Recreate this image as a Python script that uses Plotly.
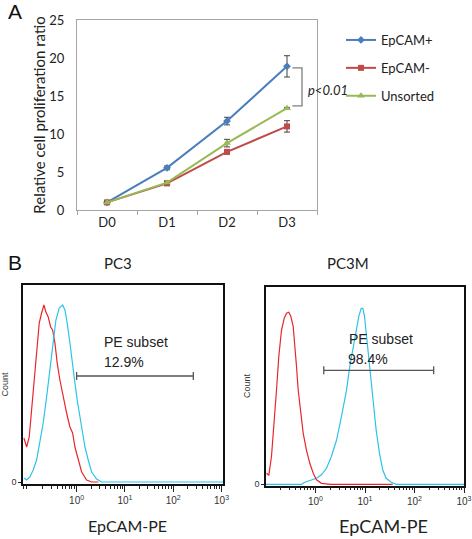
import numpy as np
import plotly.graph_objects as go

W, H = 472, 539

# ---------------- Panel A data ----------------
days = ["D0", "D1", "D2", "D3"]
epcam_pos = [1.0, 5.55, 11.7, 18.9]
epcam_pos_err = [0.1, 0.25, 0.5, 1.4]
epcam_neg = [1.0, 3.5, 7.65, 11.0]
epcam_neg_err = [0.1, 0.2, 0.3, 0.75]
unsorted = [1.0, 3.6, 8.8, 13.4]
unsorted_err = [0.1, 0.2, 0.5, 0.1]
p_text = "p&lt;0.01"

# ---------------- Panel B data (log10 of EpCAM-PE intensity, count) ----------------
pc3_red_log = [-1.091, -1.035, -0.981, -0.932, -0.884, -0.828, -0.774, -0.725, -0.677, -0.636,
               -0.588, -0.538, -0.497, -0.449, -0.402, -0.346, -0.277, -0.207, -0.139, -0.083,
               -0.035, 0.033, 0.104, 0.207, 0.311, 0.45]
pc3_red_cnt = [44, 35, 45, 72, 102, 135, 159, 169, 177, 170,
               165, 155, 152, 139, 119, 102, 85, 69, 55, 49,
               35, 22, 10, 2, 0, 0]
pc3_cyan_log = [-1.091, -1.035, -0.967, -0.899, -0.828, -0.760, -0.692, -0.621, -0.553, -0.484,
                -0.429, -0.360, -0.290, -0.242, -0.195, -0.139, -0.083, -0.035, 0.012, 0.068,
                0.124, 0.172, 0.240, 0.311, 0.414, 0.518, 3.03]
pc3_cyan_cnt = [4, 2, 5, 12, 22, 39, 59, 85, 112, 142,
                162, 174, 177, 172, 159, 139, 115, 99, 82, 65,
                49, 35, 22, 10, 3, 0, 0]
pc3m_red_log = [-0.990, -0.943, -0.889, -0.834, -0.788, -0.741, -0.687, -0.632, -0.586, -0.539,
                -0.499, -0.451, -0.418, -0.384, -0.349, -0.297, -0.248, -0.182, -0.115, -0.046,
                0.020, 0.121, 0.3, 1.56]
pc3m_red_cnt = [11, 9, 28, 61, 94, 128, 154, 166, 171, 172,
                168, 158, 141, 118, 94, 68, 51, 34, 21, 11,
                4.5, 1, 0, 0]
pc3m_cyan_log = [-1.0, -0.283, -0.216, -0.081, 0.020, 0.121, 0.222, 0.323, 0.424, 0.525,
                 0.626, 0.693, 0.754, 0.822, 0.875, 0.923, 0.956, 0.990, 1.024, 1.077,
                 1.125, 1.172, 1.226, 1.293, 1.360, 1.428, 1.529, 1.630, 3.0]
pc3m_cyan_cnt = [0, 0, 2, 4.5, 6, 9.5, 16, 28, 44, 68,
                 94, 118, 134, 154, 168, 176, 176, 168, 151, 128,
                 104, 78, 54, 31, 14, 6, 2, 0, 0]
pc3_gate = [1.0, 260.0]
pc3_gate_cnt = 106
pc3_subset = "12.9%"
pc3m_gate = [1.47, 244.0]
pc3m_gate_cnt = 114
pc3m_subset = "98.4%"
subset_label = "PE subset"
decade_ticks = [1, 10, 100, 1000]
decade_labels = ["10<sup>0</sup>", "10<sup>1</sup>", "10<sup>2</sup>", "10<sup>3</sup>"]


def px_x(p):
    return p / W


def px_y(p):
    return 1 - p / H


fig = go.Figure()

CAL = "Lato, 'Open Sans', sans-serif"
ARI = "'Liberation Sans', Arial, sans-serif"

blue = "#4a7ebb"
red = "#be4b48"
green = "#98b954"

err_style = dict(type="data", visible=True, color="#404040", thickness=1, width=3)

fig.add_trace(go.Scatter(x=days, y=epcam_pos, name="EpCAM+", mode="lines+markers",
                         line=dict(color=blue, width=2),
                         marker=dict(symbol="diamond", size=6, color=blue),
                         error_y=dict(array=epcam_pos_err, **err_style),
                         xaxis="x", yaxis="y", legendgroup="a"))
fig.add_trace(go.Scatter(x=days, y=epcam_neg, name="EpCAM-", mode="lines+markers",
                         line=dict(color=red, width=2),
                         marker=dict(symbol="square", size=6, color=red),
                         error_y=dict(array=epcam_neg_err, **err_style),
                         xaxis="x", yaxis="y", legendgroup="b"))
fig.add_trace(go.Scatter(x=days, y=unsorted, name="Unsorted", mode="lines+markers",
                         line=dict(color=green, width=2),
                         marker=dict(symbol="triangle-up", size=7, color=green),
                         error_y=dict(array=unsorted_err, **err_style),
                         xaxis="x", yaxis="y", legendgroup="c"))

hred = "#e8262b"
hcyan = "#2cc3e8"
fig.add_trace(go.Scatter(x=[10 ** v for v in pc3_red_log], y=pc3_red_cnt, mode="lines",
                         line=dict(color=hred, width=1.2), showlegend=False, xaxis="x2", yaxis="y2"))
fig.add_trace(go.Scatter(x=[10 ** v for v in pc3_cyan_log], y=pc3_cyan_cnt, mode="lines",
                         line=dict(color=hcyan, width=1.2), showlegend=False, xaxis="x2", yaxis="y2"))
fig.add_trace(go.Scatter(x=[10 ** v for v in pc3m_cyan_log], y=pc3m_cyan_cnt, mode="lines",
                         line=dict(color=hcyan, width=1.2), showlegend=False, xaxis="x3", yaxis="y3"))
fig.add_trace(go.Scatter(x=[10 ** v for v in pc3m_red_log], y=pc3m_red_cnt, mode="lines",
                         line=dict(color=hred, width=1.2), showlegend=False, xaxis="x3", yaxis="y3"))

# gates
for g, c, xa, ya in [(pc3_gate, pc3_gate_cnt, "x2", "y2"), (pc3m_gate, pc3m_gate_cnt, "x3", "y3")]:
    fig.add_trace(go.Scatter(x=g, y=[c, c], mode="lines", line=dict(color="#555555", width=1.3),
                             showlegend=False, xaxis=xa, yaxis=ya))
    for gx in g:
        fig.add_trace(go.Scatter(x=[gx, gx], y=[c - 4, c + 4], mode="lines",
                                 line=dict(color="#555555", width=1.3),
                                 showlegend=False, xaxis=xa, yaxis=ya))

# bracket for p value
bx0, bx1 = 3.09, 3.25
fig.add_shape(type="path", xref="x", yref="y",
              path=f"M{bx0},{epcam_pos[3]-0.2} L{bx1},{epcam_pos[3]-0.2} L{bx1},{unsorted[3]+0.3} L{bx0},{unsorted[3]+0.3}",
              line=dict(color="#7f7f7f", width=1.3))

minor_vals = [m * 10 ** d for d in range(-2, 3) for m in range(2, 10)]

axA_common = dict(showline=True, mirror=True, linecolor="#a6a6a6", linewidth=1, showgrid=False,
                  zeroline=False, automargin=False)
histo_x = dict(type="log", tickvals=decade_ticks, ticktext=decade_labels, ticks="outside",
               ticklen=6, tickcolor="#222", showline=True, mirror=True, linecolor="#111",
               linewidth=1.5, showgrid=False, zeroline=False, automargin=False,
               tickfont=dict(family=ARI, size=10, color="#333"),
               minor=dict(tickvals=minor_vals, ticks="outside", ticklen=3, tickcolor="#222",
                          showgrid=False))
histo_y = dict(tickvals=[0], ticktext=["0"], ticks="outside", ticklen=3, tickcolor="#222",
               showline=True, mirror=True, linecolor="#111", linewidth=1.5, showgrid=False,
               zeroline=False, automargin=False, tickfont=dict(family=ARI, size=9, color="#333"),
               title=dict(text="Count", standoff=2, font=dict(family=ARI, size=9, color="#333")))

layout = dict(
    template="none",
    width=W, height=H, autosize=False,
    margin=dict(l=0, r=0, t=0, b=0, pad=0),
    paper_bgcolor="white", plot_bgcolor="white",
    showlegend=True,
    legend=dict(x=px_x(341), y=px_y(25), xanchor="left", yanchor="top",
                font=dict(family=CAL, size=13, color="#222"), tracegroupgap=8,
                bgcolor="rgba(0,0,0,0)", borderwidth=0),
    xaxis=dict(domain=[px_x(77), px_x(317)], range=[-0.5, 3.5], type="category",
               tickson="boundaries", ticks="outside", ticklen=4, tickcolor="#a6a6a6",
               tickfont=dict(family=CAL, size=13, color="#222"), anchor="y", **axA_common),
    yaxis=dict(domain=[px_y(210), px_y(20)], range=[0, 25], dtick=5, ticks="",
               ticklabelstandoff=9,
               tickfont=dict(family=CAL, size=13, color="#222"), anchor="x",
               title=dict(text="Relative cell proliferation ratio", standoff=0,
                          font=dict(family=CAL, size=15, color="#222")),
               **axA_common),
    xaxis2=dict(domain=[px_x(23), px_x(223)], range=[-1.11, 3.03], anchor="y2", **histo_x),
    yaxis2=dict(domain=[px_y(484), px_y(285)], range=[-2, 197], anchor="x2", **histo_y),
    xaxis3=dict(domain=[px_x(266), px_x(464)], range=[-1.0, 3.0], anchor="y3", **histo_x),
    yaxis3=dict(domain=[px_y(485.5), px_y(286.5)], range=[-1.2, 197.8], anchor="x3", **histo_y),
)
fig.update_layout(**layout)


def txt(text, x, y, size, family, xref="paper", yref="paper", xanchor="center", color="#222"):
    return dict(text=text, x=x, y=y, xref=xref, yref=yref, xanchor=xanchor, yanchor="middle",
                showarrow=False, font=dict(family=family, size=size, color=color))


ann = [
    txt("A", px_x(6), px_y(12), 21, ARI, xanchor="left", color="#111"),
    txt("B", px_x(6), px_y(262), 21, ARI, xanchor="left", color="#111"),
    txt("PC3", px_x(118), px_y(263), 15, CAL),
    txt("PC3M", px_x(348), px_y(263), 15, CAL),
    txt("EpCAM-PE", px_x(127), px_y(525), 16, CAL),
    txt("EpCAM-PE", px_x(383), px_y(526), 18, CAL),
    txt(f"<i>{p_text}</i>", 3.32, (epcam_pos[3] + unsorted[3]) / 2 - 0.3, 13, CAL,
        xref="x", yref="y", xanchor="left"),
    txt(subset_label, 0.518, 140, 14, ARI, xref="x2", yref="y2", xanchor="left"),
    txt(pc3_subset, 0.518, 120, 14, ARI, xref="x2", yref="y2", xanchor="left"),
    txt(subset_label, 0.636, 145, 14, ARI, xref="x3", yref="y3", xanchor="left"),
    txt(pc3m_subset, 0.616, 125, 14, ARI, xref="x3", yref="y3", xanchor="left"),
]
fig.update_layout(annotations=ann)

fig.write_html("out.html", config={"displayModeBar": False},
               post_script="document.body.style.margin='0px';")
